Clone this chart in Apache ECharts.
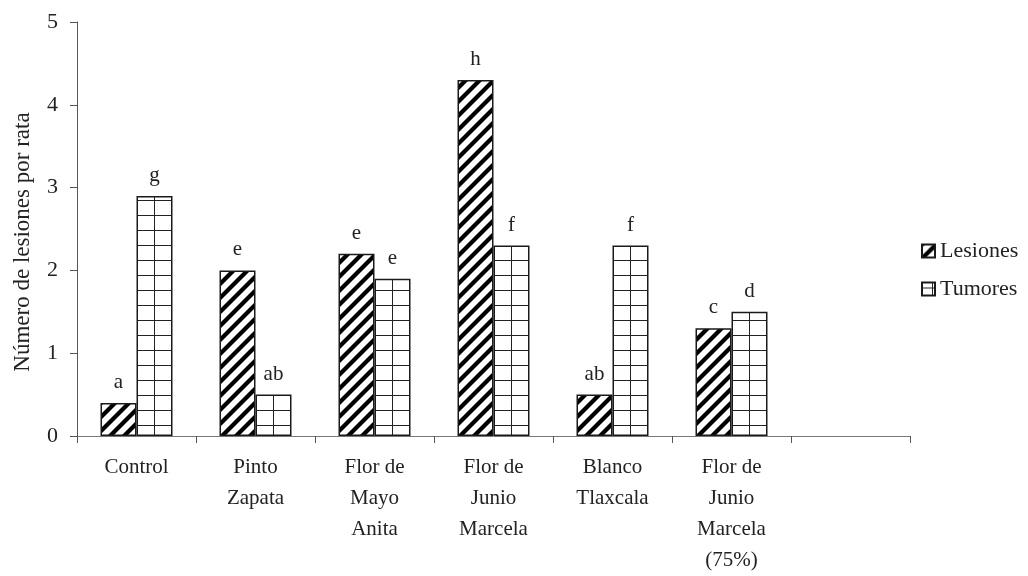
<!DOCTYPE html>
<html>
<head>
<meta charset="utf-8">
<script src="https://cdn.jsdelivr.net/npm/echarts@6/dist/echarts.min.js"></script>
<style>
  html, body { margin: 0; padding: 0; background: #fff; }
  #chart { width: 1028px; height: 576px; }
</style>
</head>
<body>
<div id="chart"></div>
<script>
// Categories (last slot left empty on purpose)
const categories = [
  'Control',
  'Pinto\nZapata',
  'Flor de\nMayo\nAnita',
  'Flor de\nJunio\nMarcela',
  'Blanco\nTlaxcala',
  'Flor de\nJunio\nMarcela\n(75%)',
  ''
];
const lesiones = [0.4, 2.0, 2.2, 4.3, 0.5, 1.3, null];
const tumores = [2.9, 0.5, 1.9, 2.3, 2.3, 1.5, null];
const lesionesLetters = ['a', 'e', 'e', 'h', 'ab', 'c', ''];
const tumoresLetters = ['g', 'ab', 'e', 'f', 'f', 'd', ''];
const yTicks = [0, 1, 2, 3, 4, 5];

const FONT = 'Liberation Serif';
const TEXT = '#222';

// Layout of the plotting area
const GRID_LEFT = 77, GRID_TOP = 22, GRID_W = 833, GRID_H = 418;
const CAT_W = GRID_W / categories.length;
const BAR_W = 36;

// Hatch tile: diagonal stripes
function stripeTile() {
  const s = 14;
  const c = document.createElement('canvas');
  c.width = s; c.height = s;
  const g = c.getContext('2d');
  g.fillStyle = '#fff';
  g.fillRect(0, 0, s, s);
  g.strokeStyle = '#000';
  g.lineWidth = 4.2;
  for (const k of [-s, 0, s]) {
    g.beginPath();
    g.moveTo(k - 2, s + 2);
    g.lineTo(k + s + 2, -2);
    g.stroke();
  }
  return c;
}
// Hatch tile: square grid
function gridTile() {
  const w = 18, h = 15;
  const c = document.createElement('canvas');
  c.width = w; c.height = h;
  const g = c.getContext('2d');
  g.fillStyle = '#fff';
  g.fillRect(0, 0, w, h);
  g.fillStyle = '#222';
  g.fillRect(0, 0, 1, h);
  g.fillRect(0, 0, w, 1);
  return c;
}
const stripes = stripeTile();
const cells = gridTile();

const stripeFill = { image: stripes, repeat: 'repeat' };
const baseY = GRID_TOP + GRID_H;
function cellFill(i) {
  const cx = GRID_LEFT + CAT_W * (i + 0.5);
  return { image: cells, repeat: 'repeat', x: Math.floor(cx), y: baseY };
}

const labelStyle = {
  show: true,
  position: 'top',
  distance: 10,
  fontFamily: FONT,
  fontSize: 21,
  color: TEXT
};

const chart = echarts.init(document.getElementById('chart'), null, { renderer: 'canvas' });
chart.setOption({
  animation: false,
  backgroundColor: '#fff',
  textStyle: { fontFamily: FONT, color: TEXT },
  grid: { left: GRID_LEFT, top: GRID_TOP, width: GRID_W, height: GRID_H, containLabel: false },
  legend: {
    orient: 'vertical',
    left: 916,
    top: 235,
    itemWidth: 13,
    itemHeight: 13,
    itemGap: 16,
    icon: 'rect',
    textStyle: { fontFamily: FONT, fontSize: 22, color: TEXT, lineHeight: 22 },
    data: ['Lesiones', 'Tumores']
  },
  xAxis: {
    type: 'category',
    data: categories,
    boundaryGap: true,
    axisLine: { lineStyle: { color: '#777', width: 1 } },
    axisTick: { show: true, interval: 0, length: 7, lineStyle: { color: '#555' } },
    axisLabel: {
      interval: 0,
      margin: 16,
      fontFamily: FONT,
      fontSize: 21,
      lineHeight: 31,
      color: TEXT
    }
  },
  yAxis: {
    type: 'value',
    min: yTicks[0],
    max: yTicks[yTicks.length - 1],
    interval: 1,
    splitLine: { show: false },
    axisLine: { show: true, lineStyle: { color: '#555', width: 1 } },
    axisTick: { show: true, length: 7, lineStyle: { color: '#555' } },
    axisLabel: { margin: 19, fontFamily: FONT, fontSize: 22, color: TEXT }
  },
  graphic: [{
    type: 'text',
    x: 23,
    y: 242,
    rotation: Math.PI / 2,
    style: {
      text: 'Número de lesiones por rata',
      fontFamily: FONT,
      fontSize: 23,
      fill: TEXT,
      align: 'center',
      verticalAlign: 'middle'
    }
  }],
  series: [
    {
      name: 'Lesiones',
      type: 'bar',
      barWidth: BAR_W,
      barGap: '0%',
      itemStyle: { color: stripeFill, borderColor: '#1a1a1a', borderWidth: 1.5 },
      label: Object.assign({}, labelStyle, {
        formatter: p => lesionesLetters[p.dataIndex]
      }),
      data: lesiones
    },
    {
      name: 'Tumores',
      type: 'bar',
      barWidth: BAR_W,
      barGap: '0%',
      itemStyle: { color: cellFill(0), borderColor: '#1a1a1a', borderWidth: 1.5 },
      label: Object.assign({}, labelStyle, {
        formatter: p => tumoresLetters[p.dataIndex]
      }),
      data: tumores.map((v, i) => ({ value: v, itemStyle: { color: cellFill(i) } }))
    }
  ]
});
</script>
</body>
</html>
